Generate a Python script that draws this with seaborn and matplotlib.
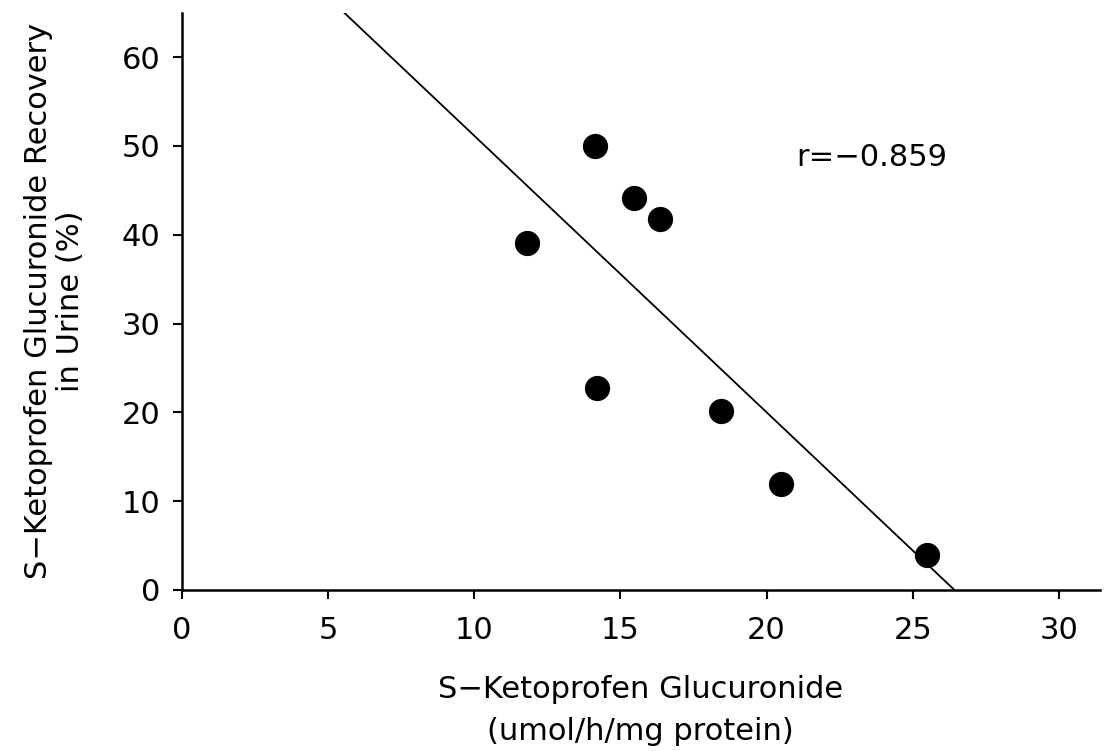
import matplotlib
matplotlib.use("Agg")
import matplotlib.pyplot as plt
import seaborn as sns
import pandas as pd

# Data
glucuronide_rate = [11.8, 14.13, 14.2, 15.45, 16.36, 18.45, 20.48, 25.5]
urine_recovery = [39.1, 50.0, 22.7, 44.1, 41.8, 20.2, 11.9, 3.9]
x_ticks = [0, 5, 10, 15, 20, 25, 30]
y_ticks = [0, 10, 20, 30, 40, 50, 60]
r_text = "r=\u22120.859"

df = pd.DataFrame({"x": glucuronide_rate, "y": urine_recovery})

sns.set_theme(style="white")
plt.rcParams["font.family"] = ["DejaVu Sans"]
plt.rcParams["axes.unicode_minus"] = True

FS = 22

fig = plt.figure(figsize=(11.09, 7.51), dpi=100)
ax = fig.add_axes([0.1638, 0.2144, 0.9919 - 0.1638, 0.983 - 0.2144])
ax.set_xlim(0, 31.4)
ax.set_ylim(0, 65)

sns.regplot(data=df, x="x", y="y", ax=ax, ci=None, truncate=False,
            scatter_kws=dict(s=330, color="black", edgecolor="black", linewidths=0, zorder=3, alpha=1),
            line_kws=dict(color="black", lw=1.3))
ax.set_xlim(0, 31.4)
ax.set_ylim(0, 65)

ax.set_xticks(x_ticks)
ax.set_yticks(y_ticks)
ax.tick_params(axis="both", direction="out", length=6.5, width=1.5, colors="black",
               labelcolor="black", labelsize=FS, left=True, bottom=True)
ax.tick_params(axis="y", pad=9)
ax.tick_params(axis="x", pad=12)

sns.despine(ax=ax, top=True, right=True)
for side in ["left", "bottom"]:
    ax.spines[side].set_linewidth(1.8)
    ax.spines[side].set_color("black")

ax.set_xlabel("S\u2212Ketoprofen Glucuronide\n(umol/h/mg protein)", fontsize=FS,
              labelpad=22, linespacing=1.55, color="black")
ax.set_ylabel("S\u2212Ketoprofen Glucuronide Recovery\nin Urine (%)", fontsize=FS,
              labelpad=26, linespacing=1.15, color="black")

ax.text(21.03, 48.7, r_text, fontsize=FS, ha="left", va="center", color="black")

fig.savefig("out.png", dpi=100, facecolor="white")
